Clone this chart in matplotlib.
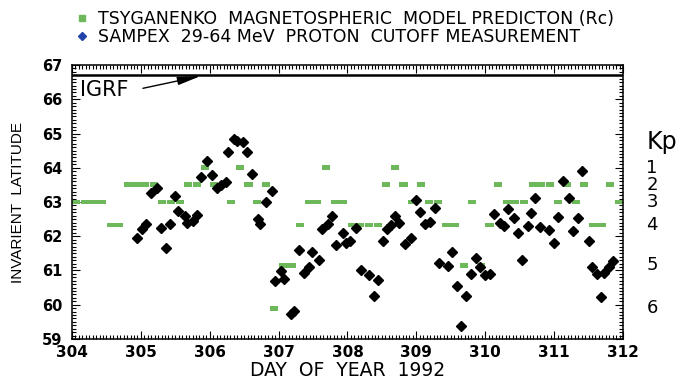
import matplotlib.pyplot as plt
from matplotlib.lines import Line2D
from matplotlib.ticker import MultipleLocator
import numpy as np

plt.rcParams['font.family'] = ['DejaVu Sans']

# Kp index per 3-hour interval, days 304-312
kp = [3, 3, 3, 3, 4, 4, 2, 2, 2, 2, 3, 3, 3, 2, 2, 1, 2, 2, 3, 1, 2, 3, 2, 6,
      5, 5, 4, 3, 3, 1, 3, 3, 4, 4, 4, 4, 2, 1, 2, 3, 2, 3, 3, 4, 4, 5, 3, 5,
      4, 2, 3, 3, 3, 2, 2, 2, 3, 2, 3, 2, 4, 4, 2, 3]
# model cutoff latitude for each Kp level
kp_levels = [1, 2, 3, 4, 5, 6]
kp_lat = [64.0, 63.5, 63.0, 62.33, 61.15, 59.9]

# SAMPEX measured cutoff
day = [304.95, 305.01, 305.08, 305.15, 305.24, 305.29, 305.37, 305.43, 305.50, 305.54,
       305.64, 305.67, 305.75, 305.82, 305.87, 305.96, 306.03, 306.11, 306.17, 306.23,
       306.27, 306.35, 306.40, 306.48, 306.54, 306.62, 306.70, 306.73, 306.82, 306.90,
       306.95, 307.03, 307.08, 307.18, 307.23, 307.30, 307.37, 307.44, 307.49, 307.58,
       307.63, 307.71, 307.78, 307.83, 307.94, 307.98, 308.03, 308.12, 308.19, 308.31,
       308.38, 308.45, 308.52, 308.57, 308.63, 308.69, 308.75, 308.83, 308.92, 308.99,
       309.06, 309.13, 309.20, 309.27, 309.33, 309.46, 309.52, 309.59, 309.65, 309.72,
       309.79, 309.87, 309.93, 310.00, 310.07, 310.13, 310.22, 310.27, 310.33, 310.42,
       310.47, 310.54, 310.62, 310.67, 310.72, 310.79, 310.92, 311.00, 311.06, 311.13,
       311.22, 311.28, 311.34, 311.40, 311.51, 311.55, 311.62, 311.68, 311.73, 311.80,
       311.86]
lat = [61.95, 62.22, 62.36, 63.27, 63.41, 62.25, 61.65, 62.36, 63.18, 62.74,
       62.59, 62.38, 62.45, 62.62, 63.74, 64.20, 63.80, 63.40, 63.50, 63.58,
       64.45, 64.85, 64.77, 64.74, 64.46, 63.83, 62.50, 62.36, 62.99, 63.31,
       60.70, 60.99, 60.75, 59.72, 59.82, 61.60, 60.92, 61.11, 61.53, 61.31,
       62.20, 62.35, 62.59, 61.74, 62.09, 61.79, 61.86, 62.23, 61.01, 60.87,
       60.26, 60.72, 61.86, 62.20, 62.33, 62.60, 62.38, 61.78, 61.96, 63.06,
       62.70, 62.37, 62.42, 62.83, 61.23, 61.13, 61.55, 60.56, 59.37, 60.26,
       60.89, 61.37, 61.11, 60.87, 60.89, 62.64, 62.38, 62.30, 62.79, 62.52,
       62.10, 61.31, 62.31, 62.69, 63.11, 62.26, 62.18, 61.81, 62.55, 63.61,
       63.11, 62.15, 62.52, 63.91, 61.86, 61.11, 60.89, 60.22, 60.92, 61.09,
       61.29]
igrf = 66.72
xticks = [304, 305, 306, 307, 308, 309, 310, 311, 312]
yticks = [59, 60, 61, 62, 63, 64, 65, 66, 67]

green = '#6cb85a'

fig = plt.figure(figsize=(6.81, 3.82), dpi=100)
ax = fig.add_axes([0.1057, 0.1126, 0.8091, 0.7172])

# model prediction, one box per 3-hour Kp interval
t0 = 304 + 0.125 * np.arange(len(kp))
model = np.array([kp_lat[kp_levels.index(k)] for k in kp])
ax.bar(t0 + 0.0625, 0.14, bottom=model - 0.07, width=0.118,
       color=green, edgecolor='none', zorder=2)

ax.plot(day, lat, 'D', color='black', markersize=5, zorder=3)
ax.axhline(igrf, color='black', lw=1.8, zorder=3)

ax.text(304.12, 66.27, 'IGRF', fontsize=15, va='center', ha='left')
ax.annotate('', xy=(305.87, igrf - 0.04), xytext=(305.03, 66.32),
            arrowprops=dict(arrowstyle='-|>,head_length=1.4,head_width=0.25',
                            color='black', lw=1.0, shrinkA=0, shrinkB=0))

ax.set_xlim(304, 312)
ax.set_ylim(59, 67)
ax.set_xticks(xticks)
ax.set_xticklabels([str(v) for v in xticks], fontweight='bold', fontsize=11)
ax.set_yticks(yticks)
ax.set_yticklabels([str(v) for v in yticks], fontweight='bold', fontsize=10.5)
ax.xaxis.set_minor_locator(MultipleLocator(0.05))
ax.yaxis.set_minor_locator(MultipleLocator(0.1))
ax.tick_params(which='both', direction='in', top=True, right=True, width=0.8)
ax.tick_params(which='major', length=6)
ax.tick_params(which='minor', length=3)
ax.tick_params(axis='y', pad=7)
ax.tick_params(axis='x', pad=4)
for s in ax.spines.values():
    s.set_linewidth(1.1)

ax.set_xlabel('DAY  OF  YEAR  1992', fontsize=13.5, labelpad=1)
ax.set_ylabel('INVARIENT  LATITUDE', fontsize=11, labelpad=12,
              family='Liberation Sans')

# Kp scale on the right
tr = ax.get_yaxis_transform()
ax.text(1.07, 64.75, 'Kp', transform=tr, fontsize=17, ha='center', va='center')
for k, y in zip(kp_levels, kp_lat):
    ax.text(1.053, y, str(k), transform=tr, fontsize=13, ha='center', va='center')

handles = [Line2D([], [], ls='none', marker='s', color=green, markersize=5),
           Line2D([], [], ls='none', marker='D', color='#2244aa', markersize=4)]
labels = ['TSYGANENKO  MAGNETOSPHERIC  MODEL PREDICTON (Rc)',
          'SAMPEX  29-64 MeV  PROTON  CUTOFF MEASUREMENT']
fig.legend(handles, labels, loc='upper left', bbox_to_anchor=(0.09, 1.01),
           frameon=False, fontsize=12.5, handlelength=0.8, handletextpad=0.5,
           labelspacing=0.0, borderpad=0.3)

fig.savefig('out.png', dpi=100)
